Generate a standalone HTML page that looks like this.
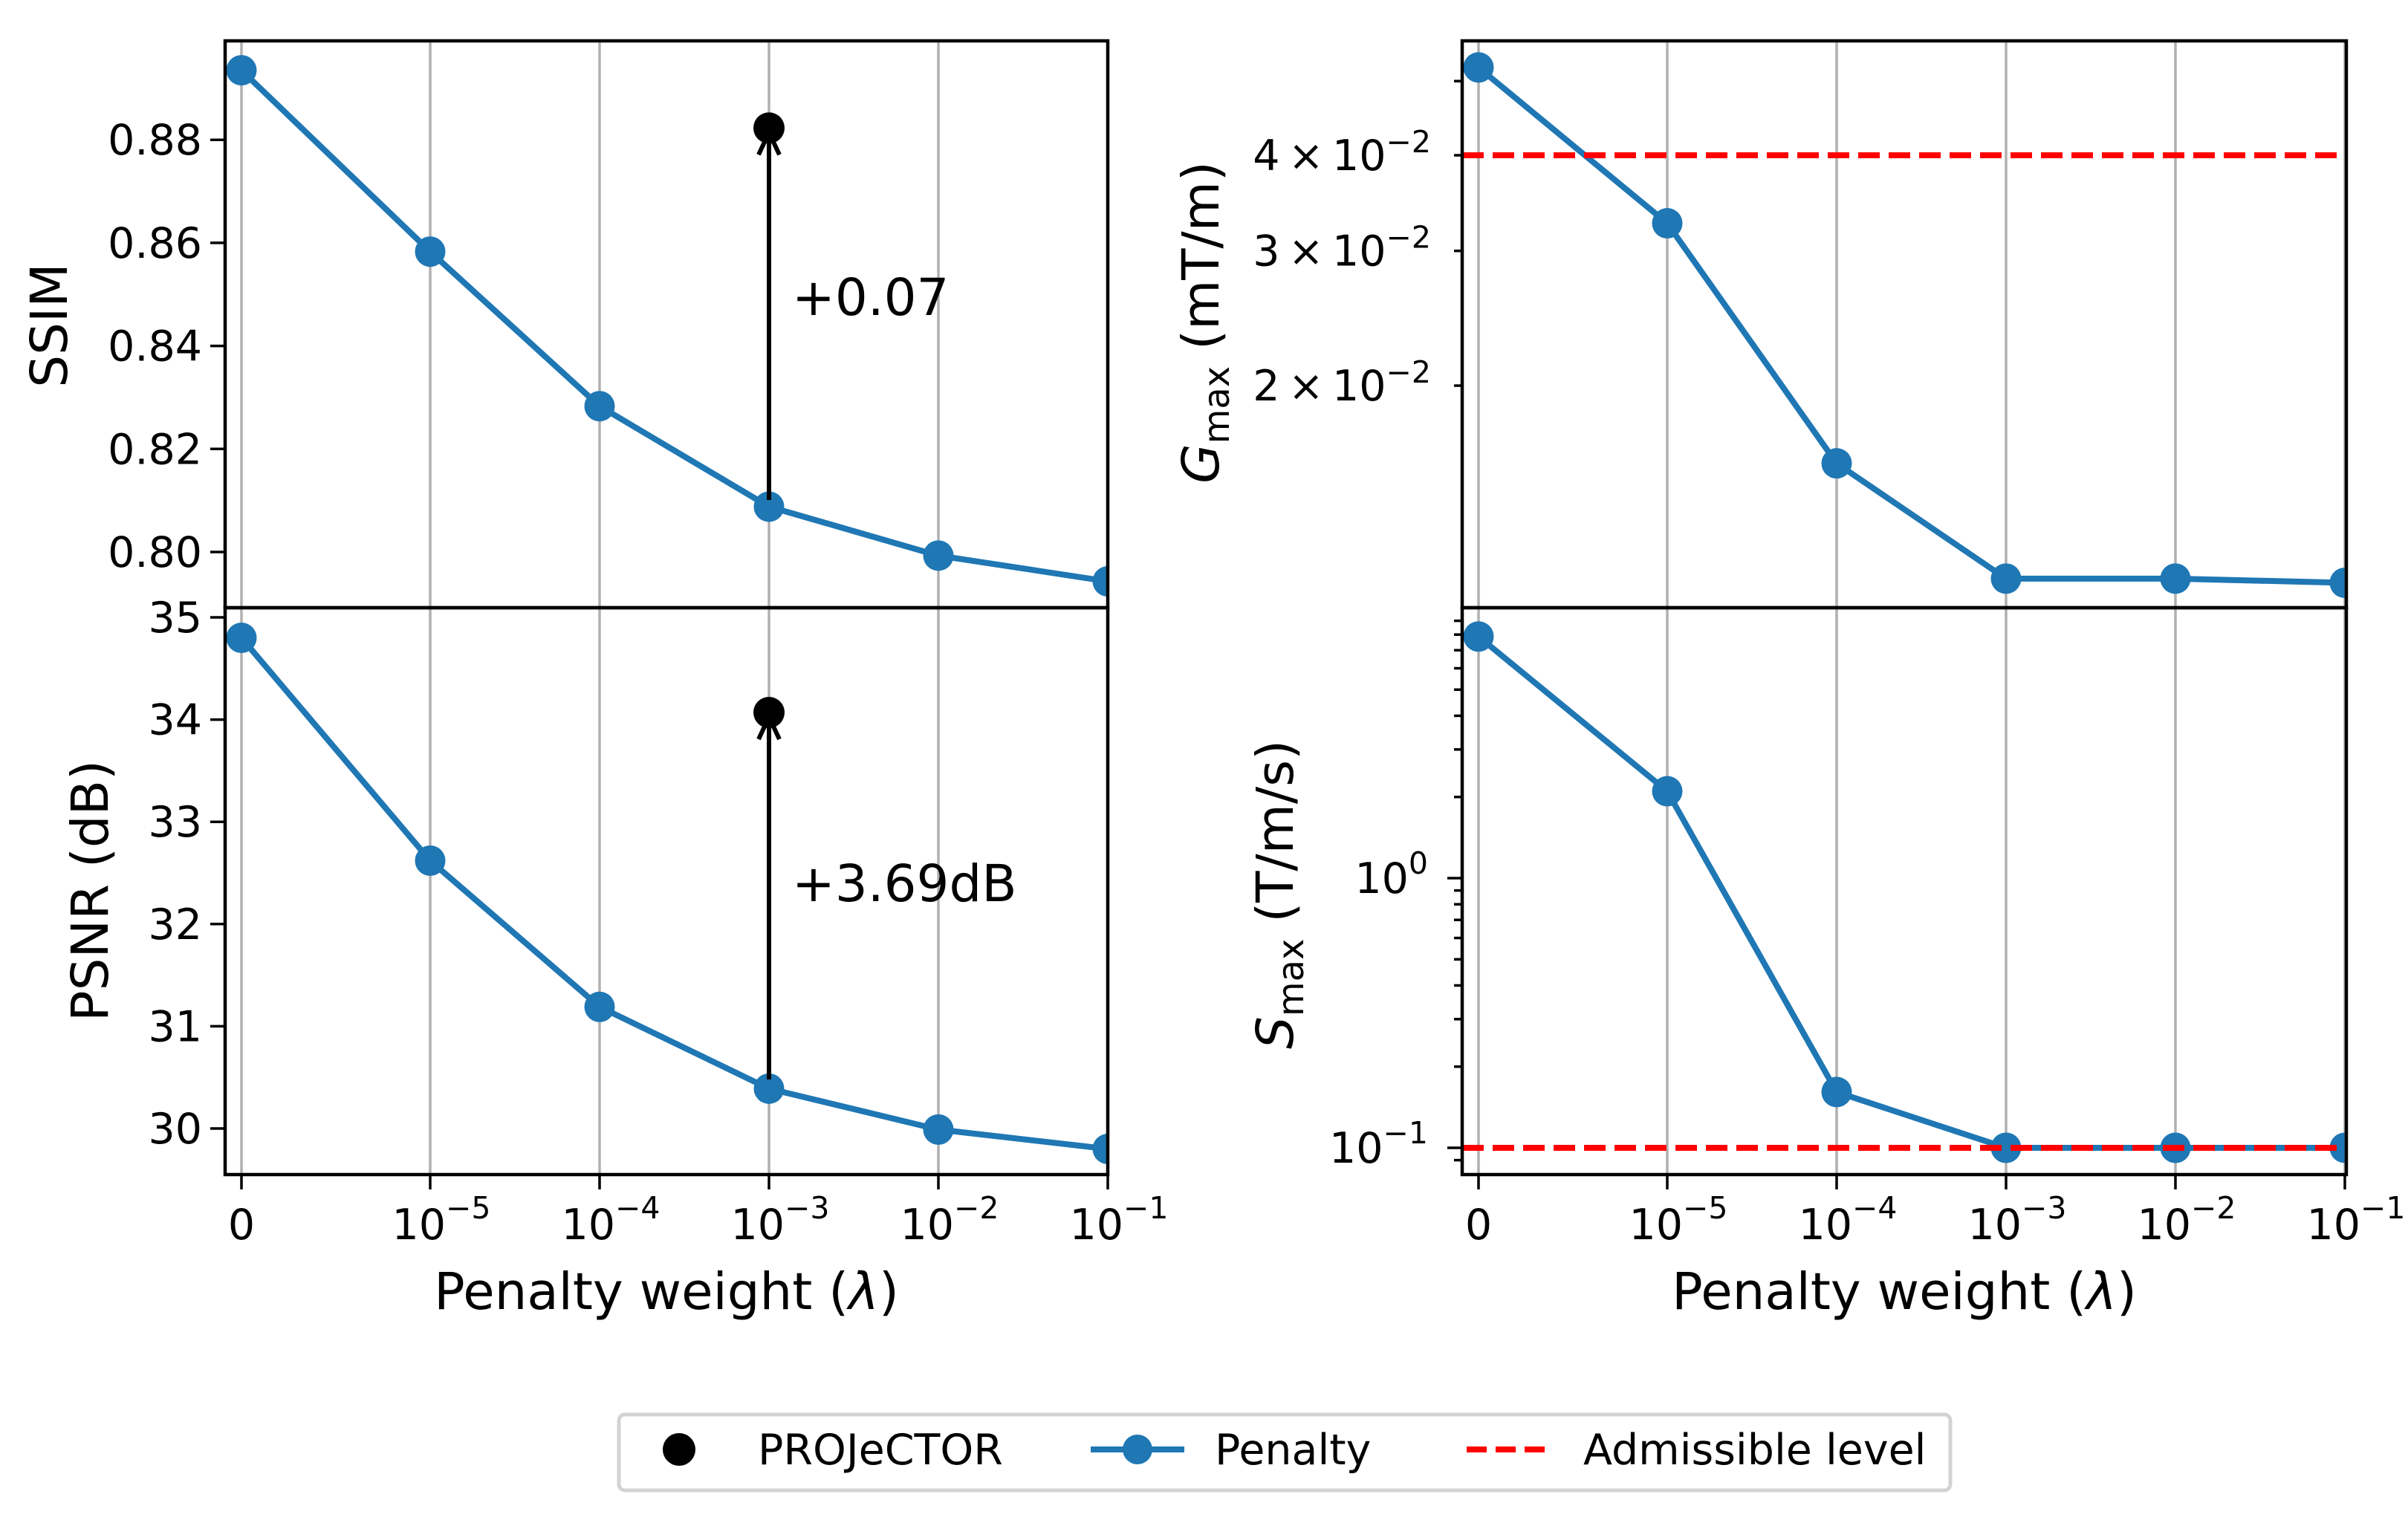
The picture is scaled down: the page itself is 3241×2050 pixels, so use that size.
<!DOCTYPE html>
<html><head><meta charset="utf-8"><style>
html,body{margin:0;padding:0;background:#fff;}
svg{display:block;font-family:"DejaVu Sans","Liberation Sans",sans-serif;}
</style></head><body>
<svg id="fig" width="3241" height="2050" viewBox="0 0 3241 2050" xmlns="http://www.w3.org/2000/svg">
<rect width="3241" height="2050" fill="#fff"/>
</svg>
<script>
const xCats = ["0","10⁻⁵","10⁻⁴","10⁻³","10⁻²","10⁻¹"];
const xExp = ["", "5","4","3","2","1"];
const ssimVals = [0.8935, 0.8583, 0.8283, 0.8088, 0.7993, 0.7943];
const ssimProj = 0.8823;
const ssimArrowStart = 0.8101;
const ssimTicks = [0.80, 0.82, 0.84, 0.86, 0.88];
const psnrVals = [34.8, 32.62, 31.19, 30.39, 29.99, 29.8];
const psnrProj = 34.07;
const psnrArrowStart = 30.48;
const psnrTicks = [30, 31, 32, 33, 34, 35];
const gVals = [0.0521, 0.0326, 0.01583, 0.01119, 0.01119, 0.01105];
const gLimit = 0.04;
const gLabeled = [[0.02,"2"],[0.03,"3"],[0.04,"4"]];
const gMinor = [0.05];
const sVals = [7.87, 2.1, 0.161, 0.1, 0.1, 0.1];
const sLimit = 0.1;
const sMajor = [[1,"0"],[0.1,"−1"]];
const sMinor = [0.09,0.2,0.3,0.4,0.5,0.6,0.7,0.8,0.9,2,3,4,5,6,7,8,9];

const NS = "http://www.w3.org/2000/svg";
const svg = document.getElementById("fig");
function el(tag, attrs, parent, text){
  const e = document.createElementNS(NS, tag);
  for (const k in attrs) e.setAttribute(k, attrs[k]);
  if (text !== undefined) e.textContent = text;
  (parent||svg).appendChild(e);
  return e;
}
const BLUE = "#1f77b4";
const TOP = 55, MID = 818, BOT = 1581;
const TF = 57;
function xScaleFactory(left){
  return i => i === 0 ? left + 22 : left + 276 + (i-1)*228;
}
const xL = xScaleFactory(303), xR = xScaleFactory(1968);
const ySSIM = v => 743 - (v - 0.80) * 6935;
const yPSNR = v => 1519 - (v - 30) * 137.6;
const yG = v => 209 - Math.log10(v/0.04) * 1030;
const yS = v => 1182 - Math.log10(v) * 363;

function grid(xf, top, bot){
  for (let i=0;i<xCats.length;i++){
    const g = el("line",{x1:xf(i),x2:xf(i),y1:top,y2:bot,stroke:"#b0b0b0","stroke-width":3.5});
    
    
  }
}
function series(xf, yf, vals, name){
  const pts = vals.map((v,i)=>xf(i)+","+yf(v)).join(" ");
  const pl = el("polyline",{points:pts,fill:"none",stroke:BLUE,"stroke-width":8,"stroke-linejoin":"round"});
  
  
  vals.forEach((v,i)=>{
    const c = el("circle",{cx:xf(i),cy:yf(v),r:20.5,fill:BLUE});
    
    
  });
}
function arrow(xf, yf, start, end, name){
  const x = xf(3), y1 = yf(start), y2 = yf(end)+6;
  const g = el("g",{});
  
  
  el("line",{x1:x,x2:x,y1:y1,y2:y2+4,stroke:"#000","stroke-width":6},g);
  el("polyline",{points:`${x-14},${y2+30} ${x},${y2} ${x+14},${y2+30}`,fill:"none",stroke:"#000","stroke-width":6},g);
  const c = el("circle",{cx:x,cy:yf(end),r:21,fill:"#000"});
  
  
}
function frame(left,right,top,bot,name){
  const r = el("rect",{x:left,y:top,width:right-left,height:bot-top,fill:"none",stroke:"#000","stroke-width":4.5});
  
  
}
function ytick(left, y, len){
  el("line",{x1:left-len,x2:left,y1:y,y2:y,stroke:"#000","stroke-width":3.5});
}
function hline(left,right,y,name){
  const l = el("line",{x1:left,x2:right,y1:y,y2:y,stroke:"#ff0000","stroke-width":8,"stroke-dasharray":"29 12"});
  
  
}

grid(xL, TOP, BOT);
series(xL, ySSIM, ssimVals, 'ssim-penalty');
arrow(xL, ySSIM, ssimArrowStart, ssimProj, 'ssim-arrow');
series(xL, yPSNR, psnrVals, 'psnr-penalty');
arrow(xL, yPSNR, psnrArrowStart, psnrProj, 'psnr-arrow');
grid(xR, TOP, BOT);
series(xR, yG, gVals, 'gmax-penalty');
hline(1968,3158,yG(gLimit),'gmax-admissible-line');
series(xR, yS, sVals, 'smax-penalty');
hline(1968,3158,yS(sLimit),'smax-admissible-line');

el("rect",{x:1491+2,y:0,width:470,height:1600,fill:"#fff"});
el("rect",{x:3158+2,y:0,width:90,height:1600,fill:"#fff"});

frame(303,1491,TOP,MID,'ssim-axes');
frame(303,1491,MID,BOT,'psnr-axes');
frame(1968,3158,TOP,MID,'gmax-axes');
frame(1968,3158,MID,BOT,'smax-axes');

ssimTicks.forEach(v=>{ const y=ySSIM(v); ytick(303,y,20);
  const t=el("text",{x:272,y:y+20,"font-size":TF,"text-anchor":"end"},svg,v.toFixed(2));
   });
psnrTicks.forEach(v=>{ const y=yPSNR(v); ytick(303,y,20);
  const t=el("text",{x:272,y:y+20,"font-size":TF,"text-anchor":"end"},svg,String(v));
   });
gLabeled.forEach(([v,m])=>{ const y=yG(v); ytick(1968,y,11);
  const t=el("text",{x:1926,y:y+20,"font-size":TF,"text-anchor":"end"},svg);
   
  el("tspan",{},t,m+"\u2009\u00d7\u200910"); el("tspan",{dy:-24,"font-size":41},t,"−2");});
gMinor.forEach(v=>ytick(1968,yG(v),11));
sMajor.forEach(([v,e])=>{ const y=yS(v); ytick(1968,y,20);
  const t=el("text",{x:1922,y:y+20,"font-size":TF,"text-anchor":"end"},svg);
   
  el("tspan",{},t,"10"); el("tspan",{dy:-26,"font-size":41},t,e);});
sMinor.forEach(v=>ytick(1968,yS(v),11));

[[xL,303],[xR,1968]].forEach(([xf,left],p)=>{
  for(let i=0;i<xCats.length;i++){
    const x=xf(i);
    el("line",{x1:x,x2:x,y1:BOT,y2:BOT+20,stroke:"#000","stroke-width":3.5});
    const t=el("text",{x:i===0?x:x+15,y:1668,"font-size":TF,"text-anchor":"middle"},svg);
     
    if(i===0){ el("tspan",{},t,"0"); }
    else { el("tspan",{},t,"10"); el("tspan",{dy:-28,"font-size":41},t,"−"+xExp[i]); }
  }
  const lab=el("text",{x:(left+(p?3158:1491))/2,y:1762,"font-size":69,"text-anchor":"middle"},svg,"Penalty weight (");
   
  el("tspan",{"font-style":"italic"},lab,"λ"); el("tspan",{},lab,")");
});

function ytitle(x,y,name,build){
  const t=el("text",{x:0,y:0,"font-size":69,"text-anchor":"middle",transform:`translate(${x},${y}) rotate(-90)`});
   
  build(t);
}
ytitle(90,438,'ssim-y-title',t=>t.textContent="SSIM");
ytitle(145,1199,'psnr-y-title',t=>t.textContent="PSNR (dB)");
ytitle(1640,434,'gmax-y-title',t=>{ el("tspan",{"font-style":"italic"},t,"G"); el("tspan",{dy:14,"font-size":48},t,"max"); el("tspan",{dy:-14},t,"  (mT/m)");});
ytitle(1740,1204,'smax-y-title',t=>{ el("tspan",{"font-style":"italic"},t,"S"); el("tspan",{dy:14,"font-size":48},t,"max"); el("tspan",{dy:-14},t,"   (T/m/s)");});

const a1=el("text",{x:1066,y:424,"font-size":69},svg,"+0.07");
 
const a2=el("text",{x:1066,y:1213,"font-size":69},svg,"+3.69dB");
 

const lg=el("g",{});  
el("rect",{x:833,y:1904,width:1792,height:102,rx:8,fill:"#fff",stroke:"#d3d3d3","stroke-width":5},lg);
const e1=el("g",{},lg);  
el("circle",{cx:914,cy:1951,r:22,fill:"#000"},e1);
el("text",{x:1020,y:1971,"font-size":57},e1,"PROJeCTOR");
const e2=el("g",{},lg);  
el("line",{x1:1468,x2:1594,y1:1951,y2:1951,stroke:BLUE,"stroke-width":8},e2);
el("circle",{cx:1531,cy:1951,r:20,fill:BLUE},e2);
el("text",{x:1635,y:1971,"font-size":57},e2,"Penalty");
const e3=el("g",{},lg);  
el("line",{x1:1974,x2:2090,y1:1951,y2:1951,stroke:"#ff0000","stroke-width":8,"stroke-dasharray":"27 12"},e3);
el("text",{x:2131,y:1971,"font-size":57},e3,"Admissible level");
</script>
</body></html>
